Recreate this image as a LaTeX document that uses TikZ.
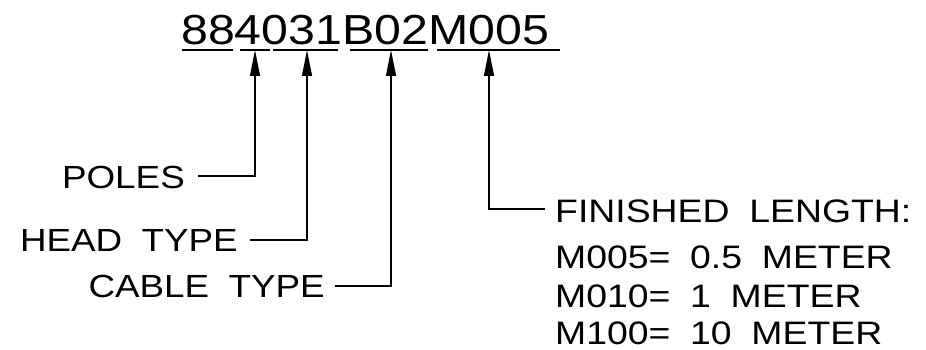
\documentclass[tikz,border=0pt]{standalone}
\usepackage{fontspec}
\setmainfont{Liberation Sans}[FakeStretch=1.15,WordSpace=1.9]
\usetikzlibrary{arrows.meta}
\begin{document}
\begin{tikzpicture}[x=1pt,y=-1pt,
  ln/.style={line width=1.4pt,black},
  arr/.style={ln,-{Triangle[length=26pt,width=10pt]}},
  lab/.style={inner sep=0pt,font=\fontsize{32}{36}\selectfont,anchor=base east},
  rlab/.style={inner sep=0pt,font=\fontsize{32.5}{38}\selectfont,anchor=base west},
  code/.style={inner sep=0pt,font=\fontsize{42}{48}\selectfont,anchor=base west}]
\useasboundingbox (0,0) rectangle (926,350);
\node[code] (code) at (181,45) {884031B02M005};
% underlines
\draw[ln] (182,50) -- (233,50);
\draw[ln] (240,50) -- (270,50);
\draw[ln] (273,50) -- (338,50);
\draw[ln] (350,50) -- (428,50);
\draw[ln] (437,50) -- (560,50);
\coordinate (u1) at (255,50);
\coordinate (u2) at (307,50);
\coordinate (u3) at (391,50);
\coordinate (u4) at (489,50);
% labels
\node[lab] (poles) at (185,188) {POLES};
\node[lab] (head) at (238,251) {HEAD TYPE};
\node[lab] (cable) at (325,297) {CABLE TYPE};
\node[rlab] (fin) at (555,222) {FINISHED LENGTH:};
\node[rlab] (m005) at (555,268) {M005= 0.5 METER};
\node[rlab] (m010) at (555,307) {M010= 1 METER};
\node[rlab] (m100) at (555,344) {M100= 10 METER};
% connectors
\draw[arr] ([xshift=13pt,yshift=1pt]poles.east) -| (u1);
\draw[arr] ([xshift=12pt]head.east) -| (u2);
\draw[arr] ([xshift=10pt]cable.east) -| (u3);
\draw[arr] ([xshift=-10pt,yshift=2pt]fin.west) -| (u4);
\end{tikzpicture}
\end{document}
